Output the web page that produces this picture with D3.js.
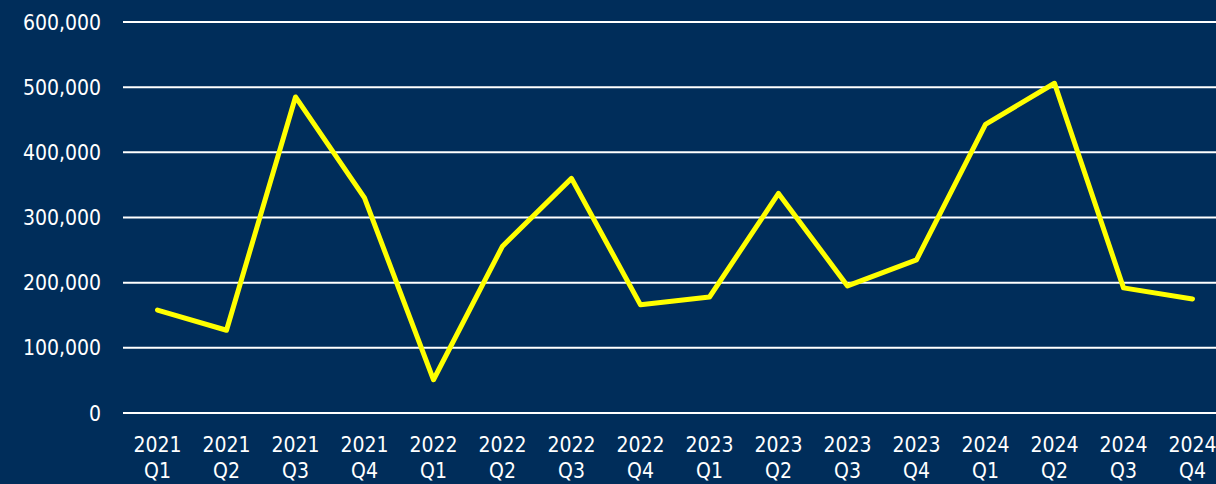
<!DOCTYPE html>
<html>
<head>
<meta charset="utf-8">
<script src="https://cdn.jsdelivr.net/npm/d3@7"></script>
<style>
html,body{margin:0;padding:0;background:#002d5a;}
svg{display:block;}
text{font-family:"DejaVu Sans Condensed","DejaVu Sans",sans-serif;fill:#ffffff;}
</style>
</head>
<body>
<svg id="chart" width="1216" height="484"></svg>
<script>
const years = ["2021","2021","2021","2021","2022","2022","2022","2022","2023","2023","2023","2023","2024","2024","2024","2024"];
const quarters = ["Q1","Q2","Q3","Q4","Q1","Q2","Q3","Q4","Q1","Q2","Q3","Q4","Q1","Q2","Q3","Q4"];
const categories = years.map((y,i)=>y+" "+quarters[i]);
const values = [158000,127000,485000,330000,51000,256000,360000,166000,178000,337000,195000,235000,443000,506000,192000,175000];
const yTicks = [0,100000,200000,300000,400000,500000,600000];

const W=1216,H=484;
const svg=d3.select("#chart");
svg.append("rect").attr("width",W).attr("height",H).attr("fill","#002d5a");

const x=d3.scaleBand().domain(categories).range([123,1227]);
const y=d3.scaleLinear().domain([0,600000]).range([413,22]);

// gridlines
svg.append("g").selectAll("line").data(yTicks).join("line")
  .attr("x1",123).attr("x2",W)
  .attr("y1",d=>y(d)).attr("y2",d=>y(d))
  .attr("stroke","#ffffff").attr("stroke-width",2);

// y labels
const fmt=d3.format(",");
svg.append("g").selectAll("text").data(yTicks).join("text")
  .attr("x",101).attr("y",d=>y(d)).attr("dy","0.36em")
  .attr("text-anchor","end").attr("font-size",21)
  .text(d=>fmt(d));

// x labels
const xl=svg.append("g").selectAll("text").data(categories).join("text")
  .attr("text-anchor","middle").attr("font-size",21)
  .attr("x",d=>x(d)+x.bandwidth()/2);
xl.append("tspan").attr("x",d=>x(d)+x.bandwidth()/2).attr("y",452).text((d,i)=>years[i]);
xl.append("tspan").attr("x",d=>x(d)+x.bandwidth()/2).attr("y",478).text((d,i)=>quarters[i]);

// line
const line=d3.line().x((d,i)=>x(categories[i])+x.bandwidth()/2).y(d=>y(d));
svg.append("path").datum(values).attr("d",line)
  .attr("fill","none").attr("stroke","#ffff00").attr("stroke-width",5)
  .attr("stroke-linejoin","round").attr("stroke-linecap","round");
</script>
</body>
</html>
